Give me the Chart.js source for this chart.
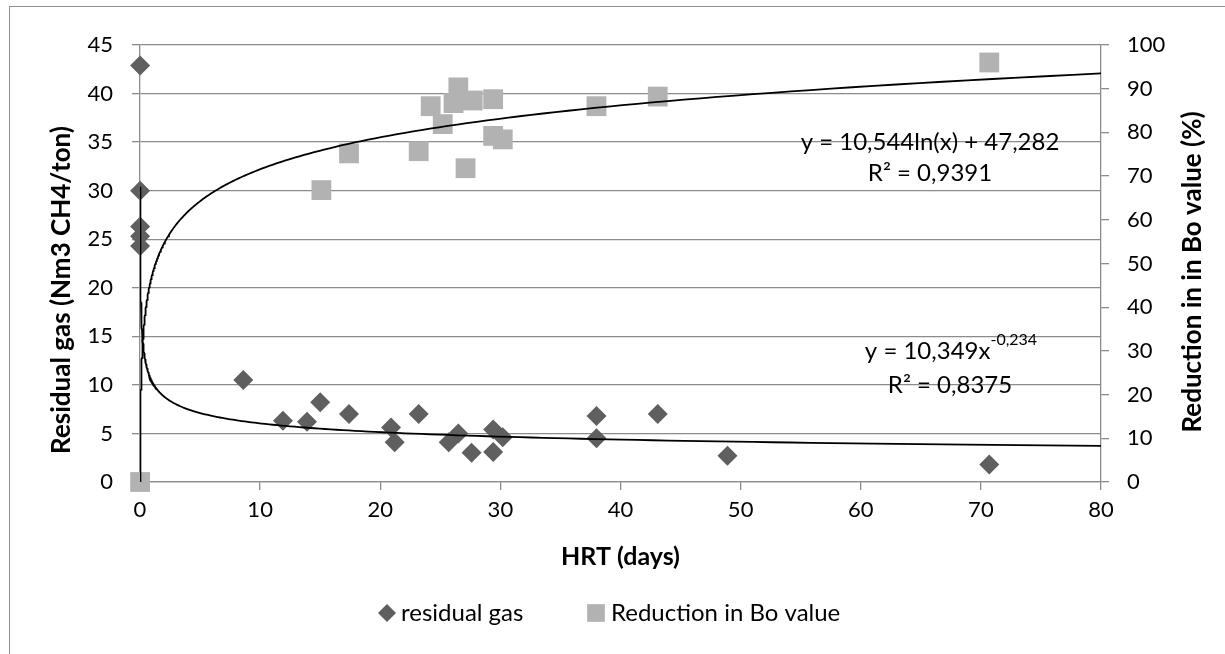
<!DOCTYPE html>
<html>
<head>
<meta charset="utf-8">
<script src="https://cdn.jsdelivr.net/npm/chart.js@4.4.1/dist/chart.umd.min.js"></script>
<style>
  body { margin: 0; background: #fff; }
</style>
</head>
<body>
<canvas id="hrtChart" width="1225" height="654"></canvas>
<script>
// residual gas (left axis)
const hrtGas = [0.01, 0.01, 0.01, 0.01, 0.01, 8.6, 11.9, 13.9, 15.0, 17.4, 20.9, 21.2,
                23.2, 25.7, 26.5, 27.6, 29.4, 29.4, 30.2, 38.0, 38.0, 43.1, 48.9, 70.7];
const residualGas = [42.9, 30.0, 26.3, 25.3, 24.3, 10.5, 6.3, 6.2, 8.2, 7.0, 5.6, 4.1,
                     7.0, 4.1, 5.0, 3.0, 5.4, 3.1, 4.6, 6.8, 4.5, 7.0, 2.7, 1.8];

// reduction in Bo value (right axis)
const hrtBo = [0.01, 15.1, 17.4, 23.2, 24.2, 25.2, 26.1, 26.5, 27.1, 27.7, 29.4, 29.4, 30.2, 38.0, 43.1, 70.7];
const reductionBo = [0, 66.8, 75.2, 75.7, 86.0, 81.9, 86.7, 90.3, 71.8, 87.3, 87.6, 79.2, 78.4, 86.0, 88.2, 96.0];

// trendline equations as printed on the chart
const logFit = { a: 10.544, b: 47.282 };   // y = a ln(x) + b
const powFit = { a: 10.349, b: -0.234 };   // y = a x^b

const xTicks = { min: 0, max: 80, step: 10 };
const yTicks = { min: 0, max: 45, step: 5 };
const y2Ticks = { min: 0, max: 100, step: 10 };

const gridColor = '#8c8c8c';
const tickFont = { family: 'Lato', size: 22 };

function toPoints(xs, ys) {
  return xs.map((x, i) => ({ x: x, y: ys[i] }));
}

// sample the fitted curves from the smallest HRT up to the axis end
function trendX(xMin, xMax, n) {
  const out = [];
  for (let i = 0; i <= n; i++) out.push(xMin * Math.pow(xMax / xMin, i / n));
  return out;
}
const tx = trendX(Math.min(...hrtGas), xTicks.max, 300);
const logLine = tx.map(x => ({ x: x, y: logFit.a * Math.log(x) + logFit.b }));
const powLine = tx.map(x => ({ x: x, y: powFit.a * Math.pow(x, powFit.b) }));

const extras = {
  id: 'extras',
  afterDraw(chart) {
    const c = chart.ctx;
    c.save();
    // outer frame
    c.strokeStyle = '#8e8e8e';
    c.lineWidth = 1;
    c.strokeRect(9.5, 6.5, 1400, 800);

    c.fillStyle = '#000';
    c.textBaseline = 'middle';

    // axis titles (both read bottom to top)
    c.font = 'bold 26px Lato';
    c.textAlign = 'center';
    c.save();
    c.translate(62, 290);
    c.rotate(-Math.PI / 2);
    c.fillText('Residual gas (Nm3 CH4/ton)', 0, 0);
    c.restore();
    c.save();
    c.translate(1193, 272);
    c.rotate(-Math.PI / 2);
    c.fillText('Reduction in in Bo value (%)', 0, 0);
    c.restore();

    // trendline labels
    c.font = '24px Lato';
    c.fillText('y = 10,544ln(x) + 47,282', 930, 142);
    c.fillText('R\u00b2 = 0,9391', 930, 173);
    c.fillText('R\u00b2 = 0,8375', 950, 385);
    const base = 'y = 10,349x';
    const sup = '-0,234';
    const wBase = c.measureText(base).width;
    c.font = '16px Lato';
    const wSup = c.measureText(sup).width;
    const x0 = 951 - (wBase + wSup) / 2;
    c.textAlign = 'left';
    c.fillText(sup, x0 + wBase, 340);
    c.font = '24px Lato';
    c.fillText(base, x0, 351);

    // legend
    const ds = chart.data.datasets;
    const drawPt = Chart.helpers && Chart.helpers.drawPoint;
    c.font = '24px Lato';
    c.textAlign = 'left';
    if (drawPt) {
      c.fillStyle = ds[2].backgroundColor;
      c.strokeStyle = ds[2].backgroundColor;
      drawPt(c, { pointStyle: 'rectRot', radius: 9, borderWidth: 0 }, 387, 613);
      c.fillStyle = ds[3].backgroundColor;
      c.strokeStyle = ds[3].backgroundColor;
      drawPt(c, { pointStyle: 'rect', radius: 12.5, borderWidth: 0 }, 596, 613);
    }
    c.fillStyle = '#000';
    c.fillText('residual gas', 401, 613);
    c.fillText('Reduction in Bo value', 611, 613);
    c.restore();
  }
};

new Chart(document.getElementById('hrtChart').getContext('2d'), {
  type: 'scatter',
  data: {
    datasets: [
      {
        label: 'Power (residual gas)',
        data: powLine,
        yAxisID: 'y',
        showLine: true,
        borderColor: '#000',
        borderWidth: 1.8,
        pointRadius: 0,
        order: 0
      },
      {
        label: 'Log. (Reduction in Bo value)',
        data: logLine,
        yAxisID: 'y2',
        showLine: true,
        borderColor: '#000',
        borderWidth: 1.8,
        pointRadius: 0,
        order: 0
      },
      {
        label: 'residual gas',
        data: toPoints(hrtGas, residualGas),
        yAxisID: 'y',
        pointStyle: 'rectRot',
        pointRadius: 10,
        backgroundColor: '#5f5f5f',
        borderColor: '#5f5f5f',
        borderWidth: 0,
        clip: false,
        order: 2
      },
      {
        label: 'Reduction in Bo value',
        data: toPoints(hrtBo, reductionBo),
        yAxisID: 'y2',
        pointStyle: 'rect',
        pointRadius: 14,
        backgroundColor: '#b2b2b2',
        borderColor: '#b2b2b2',
        borderWidth: 0,
        clip: false,
        order: 1
      }
    ]
  },
  options: {
    responsive: false,
    animation: false,
    devicePixelRatio: 1,
    layout: { padding: { top: 45, bottom: 82, left: 0, right: 0 } },
    plugins: {
      legend: { display: false },
      tooltip: { enabled: false }
    },
    scales: {
      x: {
        type: 'linear',
        min: xTicks.min,
        max: xTicks.max,
        ticks: { stepSize: xTicks.step, padding: 7, color: '#000', font: tickFont },
        grid: { drawOnChartArea: false, tickLength: 8, color: gridColor, lineWidth: 1.3 },
        border: { color: gridColor, width: 1.3 },
        title: {
          display: true,
          text: 'HRT (days)',
          color: '#000',
          font: { family: 'Lato', size: 25, weight: 'bold' },
          padding: { top: 0, bottom: 0 }
        },
        afterFit: s => { s.height = 90; }
      },
      y: {
        position: 'left',
        min: yTicks.min,
        max: yTicks.max,
        ticks: { stepSize: yTicks.step, padding: 19, color: '#000', font: tickFont },
        grid: { color: gridColor, lineWidth: 1.3, tickLength: 8 },
        border: { color: gridColor, width: 1.3 },
        afterFit: s => { s.width = 140; }
      },
      y2: {
        position: 'right',
        min: y2Ticks.min,
        max: y2Ticks.max,
        ticks: { stepSize: y2Ticks.step, padding: 18, color: '#000', font: tickFont },
        grid: { drawOnChartArea: false, color: gridColor, lineWidth: 1.3, tickLength: 8 },
        border: { color: gridColor, width: 1.3 },
        afterFit: s => { s.width = 124; }
      }
    }
  },
  plugins: [extras]
});
</script>
</body>
</html>
